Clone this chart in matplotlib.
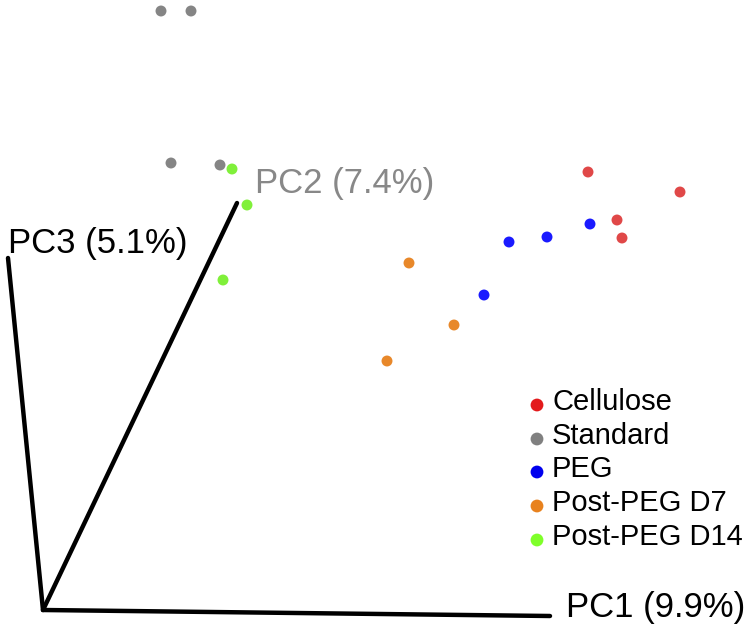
import matplotlib.pyplot as plt

# projected sample positions (screen-like coordinates of the 3D PCoA view)
groups = ["Cellulose", "Standard", "PEG", "Post-PEG D7", "Post-PEG D14"]
point_colors = ["#e04848", "#858585", "#1a1aff", "#e8882a", "#80f03a"]
legend_colors = ["#e31a1c", "#808080", "#0000ee", "#e8821e", "#7fff2a"]

cellulose_x = [588, 680, 617, 622]
cellulose_y = [172, 192, 220, 238]
standard_x = [161, 191, 171, 220]
standard_y = [11, 11, 163, 165]
peg_x = [590, 547, 509, 484]
peg_y = [224, 237, 242, 295]
d7_x = [409, 454, 387]
d7_y = [263, 325, 361]
d14_x = [232, 247, 223]
d14_y = [169, 205, 280]

xs = [cellulose_x, standard_x, peg_x, d7_x, d14_x]
ys = [cellulose_y, standard_y, peg_y, d7_y, d14_y]

# axis arrows: origin and the end of each PC axis
origin = (43, 610)
axis_ends = {"PC1": (550, 616), "PC2": (237, 203), "PC3": (8, 258)}
axis_labels = ["PC1 (9.9%)", "PC2 (7.4%)", "PC3 (5.1%)"]

plt.rcParams['font.family'] = ['Liberation Sans', 'DejaVu Sans']

fig = plt.figure(figsize=(7.5, 6.3), dpi=100)
ax = fig.add_axes([0, 0, 1, 1])
ax.set_xlim(0, 750)
ax.set_ylim(630, 0)
ax.axis('off')

for name in ["PC1", "PC2", "PC3"]:
    ex, ey = axis_ends[name]
    ax.plot([origin[0], ex], [origin[1], ey], color='black', lw=3.2,
            solid_capstyle='round', zorder=1)

ax.text(566, 617, axis_labels[0], fontsize=25, color='black', va='baseline')
ax.text(255, 193, axis_labels[1], fontsize=25, color='#888888', va='baseline')
ax.text(8, 253, axis_labels[2], fontsize=25, color='black', va='baseline')

for gx, gy, c in zip(xs, ys, point_colors):
    ax.scatter(gx, gy, s=62, color=c, edgecolors='none', zorder=3)

# legend drawn by hand to match the look
legend_y = [402, 436, 469, 503, 537]
for name, c, ly in zip(groups, legend_colors, legend_y):
    ax.scatter([537], [ly + 3], s=85, color=c, edgecolors='none')
    ax.text(552, ly, name, fontsize=21, color='black', va='center')

fig.savefig("out.png", dpi=100)
